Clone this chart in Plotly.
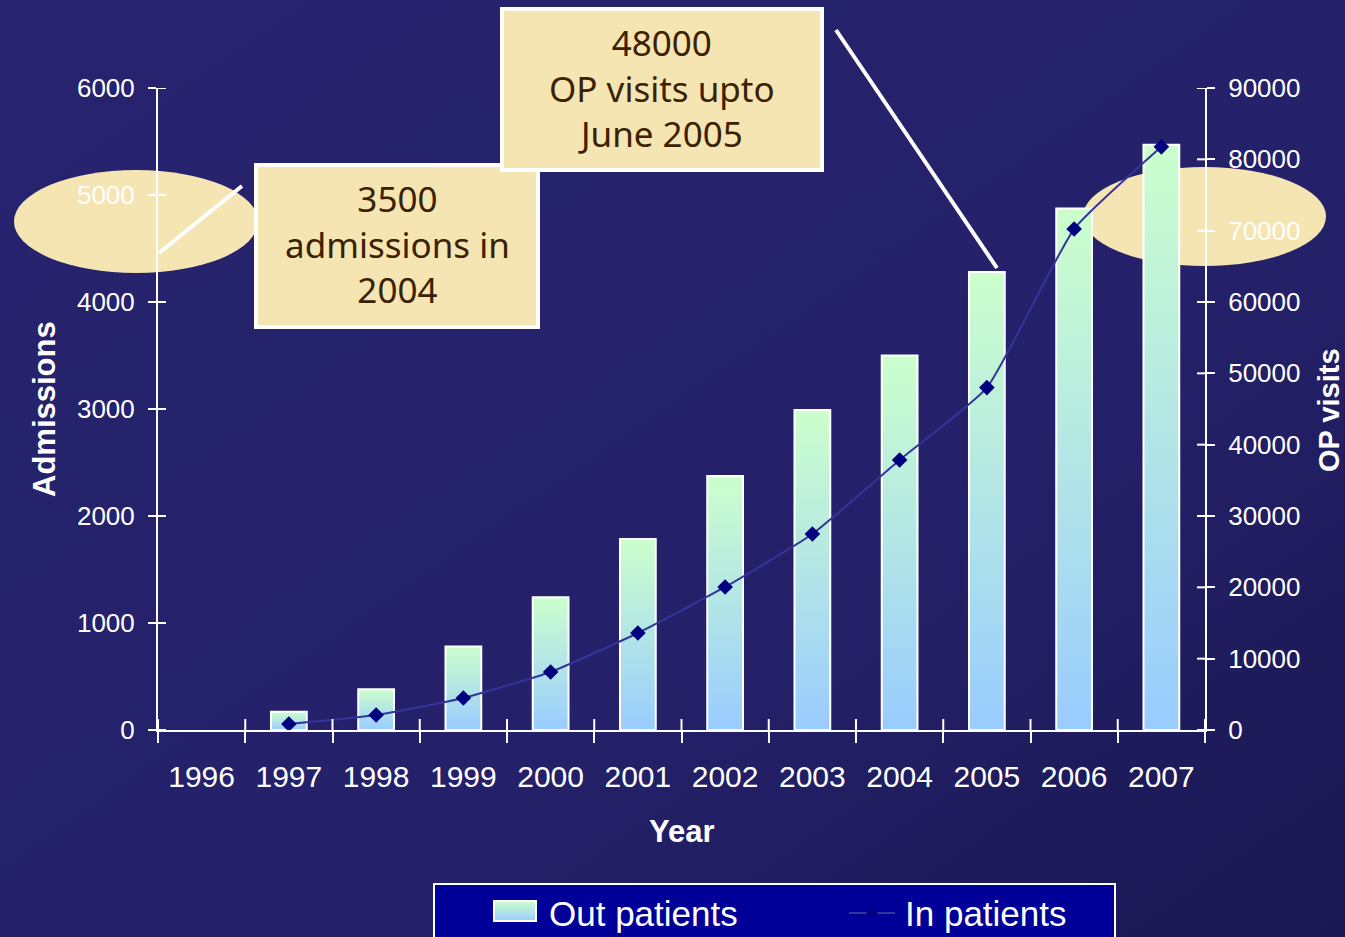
import base64
import plotly.graph_objects as go

# ---- data -------------------------------------------------------------
years = ["1996", "1997", "1998", "1999", "2000", "2001",
         "2002", "2003", "2004", "2005", "2006", "2007"]
# Admissions (left axis), drawn as bars; 1996 has no value
out_patients = [None, 170, 380, 780, 1240, 1785, 2375, 2990, 3500, 4280, 4875, 5470]
# OP visits (right axis), drawn as the line
in_patients = [None, 840, 2100, 4490, 8130, 13600, 20050, 27480, 37850, 48000, 70230, 81750]

left_ticks = [0, 1000, 2000, 3000, 4000, 5000, 6000]
right_ticks = [0, 10000, 20000, 30000, 40000, 50000, 60000, 70000, 80000, 90000]

# ---- page geometry ----------------------------------------------------
W, H = 1345, 937
L, R, T, B = 158, 140, 88, 207
PW, PH = W - L - R, H - T - B


def px(x):
    return (x - L) / PW


def py(y):
    return (T + PH - y) / PH


def svg_uri(svg):
    return "data:image/svg+xml;base64," + base64.b64encode(svg.encode()).decode()


WHITE = "#ffffff"
CALLOUT_FILL = "#f5e5b3"
CALLOUT_TEXT = "#3b2100"
BAR_TOP, BAR_BOTTOM = "#ccffcc", "#99ccff"
LINE_COL, MARK_COL = "#34349a", "#000080"
TICK_FONT = "Liberation Sans, Arial, sans-serif"

idx = list(range(len(years)))
half_w = 0.205

fig = go.Figure()

# gradient-filled bars, one closed polygon per year
for i, v in zip(idx, out_patients):
    if v is None:
        continue
    fig.add_trace(go.Scatter(
        x=[i - half_w, i - half_w, i + half_w, i + half_w, i - half_w],
        y=[0, v, v, 0, 0],
        mode="lines", fill="toself",
        line=dict(color=WHITE, width=2),
        fillgradient=dict(type="vertical",
                          colorscale=[[0, BAR_BOTTOM], [1, BAR_TOP]]),
        name="Out patients", showlegend=False, hoverinfo="skip",
        xaxis="x", yaxis="y",
    ))

# smoothed line with diamond markers on the right axis
fig.add_trace(go.Scatter(
    x=[i for i, v in zip(idx, in_patients) if v is not None],
    y=[v for v in in_patients if v is not None],
    mode="lines+markers",
    line=dict(color=LINE_COL, width=2, shape="spline", smoothing=0.45),
    marker=dict(symbol="diamond", size=12, color=MARK_COL),
    name="In patients", showlegend=False,
    xaxis="x", yaxis="y2",
))

boundaries = [i - 0.5 for i in idx] + [idx[-1] + 0.5]
xr = [-0.5, len(years) - 0.5]

axis_common = dict(showgrid=False, zeroline=False, tickcolor=WHITE, tickwidth=2)

fig.update_layout(
    width=W, height=H,
    margin=dict(l=L, r=R, t=T, b=B),
    paper_bgcolor="#23206a",
    plot_bgcolor="rgba(0,0,0,0)",
    showlegend=False,
    xaxis=dict(
        range=xr, tickmode="array", tickvals=idx, ticktext=years,
        ticks="", showline=True, linecolor=WHITE, linewidth=2,
        tickfont=dict(family=TICK_FONT, size=30, color=WHITE),
        ticklabelstandoff=19,
        minor=dict(tickmode="array", tickvals=boundaries, ticks="outside",
                   ticklen=11, tickcolor=WHITE, tickwidth=2),
        showgrid=False, zeroline=False,
    ),
    yaxis=dict(
        range=[0, 6000], tickmode="array", tickvals=left_ticks,
        ticktext=[str(v) for v in left_ticks],
        ticks="outside", ticklen=8, showline=True, linecolor=WHITE, linewidth=2,
        tickfont=dict(family=TICK_FONT, size=26, color=WHITE),
        ticklabelstandoff=8, **axis_common,
    ),
    yaxis2=dict(
        range=[0, 90000], overlaying="y", anchor="x", side="right",
        tickmode="array", tickvals=right_ticks,
        ticktext=[str(v) for v in right_ticks],
        ticks="outside", ticklen=8, showline=True, linecolor=WHITE, linewidth=2,
        tickfont=dict(family=TICK_FONT, size=26, color=WHITE),
        ticklabelstandoff=8, **axis_common,
    ),
)

# inner halves of the crossing tick marks, placed on the axes' own scales
tick_line = dict(color=WHITE, width=2)
for v in left_ticks:
    fig.add_shape(type="line", xref="paper", yref="y",
                  x0=0, x1=px(L + 8), y0=v, y1=v, line=tick_line, layer="above")
for v in right_ticks:
    fig.add_shape(type="line", xref="paper", yref="y2",
                  x0=px(L + PW - 8), x1=1, y0=v, y1=v, line=tick_line, layer="above")
for b in boundaries:
    fig.add_shape(type="line", xref="x", yref="paper",
                  x0=b, x1=b, y0=0, y1=py(T + PH - 11), line=tick_line, layer="above")

# background gradient behind everything
bg_svg = (
    f'<svg xmlns="http://www.w3.org/2000/svg" width="{W}" height="{H}">'
    '<defs><linearGradient id="g" x1="0" y1="0" x2="1" y2="1">'
    '<stop offset="0" stop-color="#27236e"/>'
    '<stop offset="0.6" stop-color="#24216a"/>'
    '<stop offset="1" stop-color="#1a1752"/>'
    '</linearGradient></defs>'
    '<rect width="100%" height="100%" fill="url(#g)"/></svg>'
)
swatch_svg = (
    '<svg xmlns="http://www.w3.org/2000/svg" width="44" height="22">'
    '<defs><linearGradient id="s" x1="0" y1="0" x2="0" y2="1">'
    f'<stop offset="0" stop-color="{BAR_TOP}"/>'
    f'<stop offset="1" stop-color="{BAR_BOTTOM}"/>'
    '</linearGradient></defs>'
    '<rect x="1" y="1" width="42" height="20" fill="url(#s)" '
    'stroke="#ffffff" stroke-width="2"/></svg>'
)
fig.add_layout_image(dict(
    source=svg_uri(bg_svg), xref="paper", yref="paper",
    x=px(0), y=py(0), sizex=W / PW, sizey=H / PH,
    xanchor="left", yanchor="top", sizing="stretch", layer="below",
))
fig.add_layout_image(dict(
    source=svg_uri(swatch_svg), xref="paper", yref="paper",
    x=px(493), y=py(900), sizex=44 / PW, sizey=22 / PH,
    xanchor="left", yanchor="top", sizing="stretch", layer="above",
))

# highlight ellipses behind the axis labels
for x0, y0, x1, y1 in [(14, 170, 258, 273), (1083, 167, 1326, 266)]:
    fig.add_shape(type="circle", xref="paper", yref="paper",
                  x0=px(x0), x1=px(x1), y0=py(y1), y1=py(y0),
                  fillcolor=CALLOUT_FILL, line=dict(width=0), layer="below")

# callout pointer lines
for x0, y0, x1, y1 in [(159, 253, 242, 186), (836, 30, 997, 268)]:
    fig.add_shape(type="line", xref="paper", yref="paper",
                  x0=px(x0), y0=py(y0), x1=px(x1), y1=py(y1),
                  line=dict(color=WHITE, width=4), layer="above")

# callout boxes and their text
callouts = [
    ((256, 165, 538, 327), "3500<br>admissions in<br>2004"),
    ((502, 9, 822, 170), "48000<br>OP visits upto<br>June 2005"),
]
for (x0, y0, x1, y1), txt in callouts:
    fig.add_shape(type="rect", xref="paper", yref="paper",
                  x0=px(x0), x1=px(x1), y0=py(y1), y1=py(y0),
                  fillcolor=CALLOUT_FILL, line=dict(color=WHITE, width=4),
                  layer="above")
    fig.add_annotation(
        text=txt, xref="paper", yref="paper",
        x=px((x0 + x1) / 2), y=py((y0 + y1) / 2 - 2),
        xanchor="center", yanchor="middle", showarrow=False,
        font=dict(family="Noto Sans, DejaVu Sans, sans-serif", size=35,
                  color=CALLOUT_TEXT),
    )

# axis titles
title_font = dict(family=TICK_FONT, size=31, color=WHITE, weight="bold")
fig.add_annotation(text="<b>Admissions</b>", xref="paper", yref="paper",
                   x=px(44), y=py(409), textangle=-90, showarrow=False,
                   xanchor="center", yanchor="middle", font=title_font)
fig.add_annotation(text="<b>OP visits</b>", xref="paper", yref="paper",
                   x=px(1329), y=py(410), textangle=-90, showarrow=False,
                   xanchor="center", yanchor="middle",
                   font=dict(title_font, size=29))
fig.add_annotation(text="<b>Year</b>", xref="paper", yref="paper",
                   x=px(682), y=py(832), showarrow=False,
                   xanchor="center", yanchor="middle", font=title_font)

# legend box (under the swatch image), swatches and labels
fig.add_shape(type="rect", xref="paper", yref="paper",
              x0=px(434), x1=px(1115), y0=py(950), y1=py(884),
              fillcolor="#000099", line=dict(color=WHITE, width=2), layer="below")
fig.add_shape(type="line", xref="paper", yref="paper",
              x0=px(849), x1=px(895), y0=py(913), y1=py(913),
              line=dict(color=LINE_COL, width=2), layer="above")
fig.add_shape(type="path", xref="paper", yref="paper",
              path=(f"M{px(866)},{py(913)} L{px(872)},{py(907)} "
                    f"L{px(878)},{py(913)} L{px(872)},{py(919)} Z"),
              fillcolor=MARK_COL, line=dict(width=0), layer="above")
legend_font = dict(family="Liberation Sans Narrow, Arial Narrow, Liberation Sans, sans-serif",
                   size=35, color=WHITE)
for x, txt in [(547, "Out patients"), (903, "In patients")]:
    fig.add_annotation(text=txt, xref="paper", yref="paper",
                       x=px(x), y=py(913), xanchor="left", yanchor="middle",
                       showarrow=False, font=legend_font)

fig.write_html("out.html")
